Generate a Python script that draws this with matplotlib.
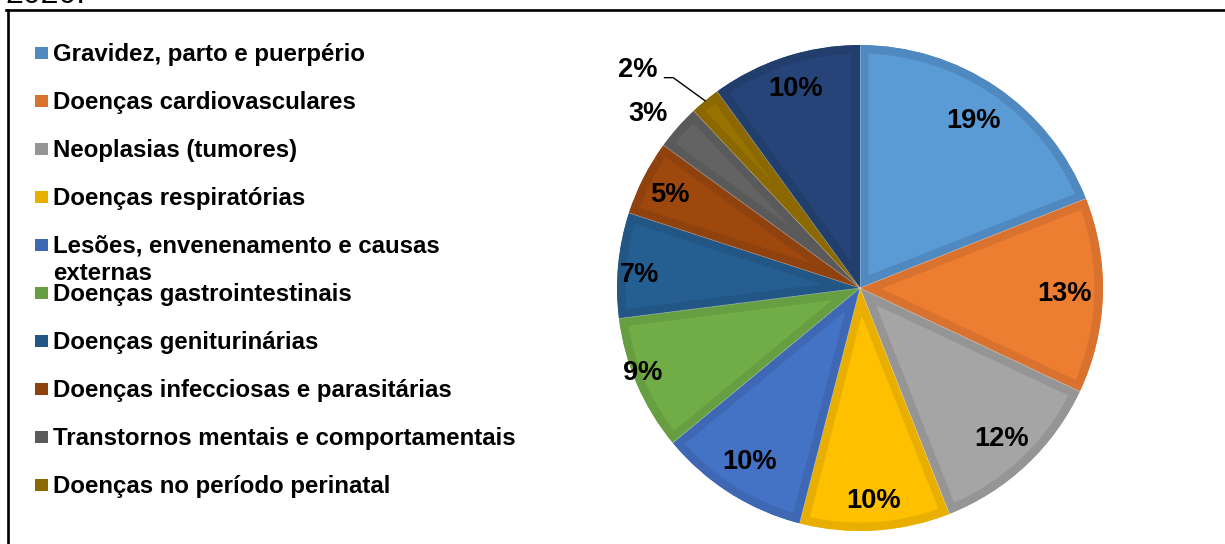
import matplotlib
matplotlib.use("Agg")
import matplotlib.pyplot as plt
from matplotlib.patches import Rectangle
from matplotlib.lines import Line2D
import numpy as np

plt.rcParams['font.family'] = ['Liberation Sans', 'DejaVu Sans']

# Internações por grupo de causas (%)
categories = [
    "Gravidez, parto e puerpério",
    "Doenças cardiovasculares",
    "Neoplasias (tumores)",
    "Doenças respiratórias",
    "Lesões, envenenamento e causas\nexternas",
    "Doenças gastrointestinais",
    "Doenças geniturinárias",
    "Doenças infecciosas e parasitárias",
    "Transtornos mentais e comportamentais",
    "Doenças no período perinatal",
    "Demais causas",
]
values = [19, 13, 12, 10, 10, 9, 7, 5, 3, 2, 10]
legend_count = 10

fills = ["#5B9BD5", "#ED7D31", "#A5A5A5", "#FFC000", "#4472C4", "#70AD47",
         "#255E91", "#9E480E", "#636363", "#997300", "#264478"]
borders = ["#4F89C0", "#D8722E", "#959595", "#E8AF00", "#3E68B3", "#669E41",
           "#225685", "#8F420D", "#5A5A5A", "#8B6900", "#223E6D"]

# radial position of each percentage label (in pie radii) and angular nudge (deg)
label_r = [0.83, 0.84, 0.85, 0.88, 0.85, 0.96, 0.91, 0.87, 1.13, 1.28, 0.86]
label_dtheta = [0, 0, 0, 0, 0, -2, 2, 1, 2, 6, 0]

W, H = 1225, 544
fig = plt.figure(figsize=(W / 100, H / 100), dpi=100)

R = 243.0          # pie radius in px
cx, cy = 860, 288  # pie centre in px (from top)
span = 1.45
ax = fig.add_axes([(cx - span * R) / W, (H - cy - span * R) / H,
                   2 * span * R / W, 2 * span * R / H])

wedges, _ = ax.pie(values, colors=fills, startangle=90, counterclock=False,
                   radius=1.0, wedgeprops=dict(linewidth=0))
ax.set_xlim(-span, span)
ax.set_ylim(-span, span)
ax.set_aspect("auto")
ax.axis("off")

# inner border band: stroke clipped to the wedge itself
band_px = 8.5
for w, bc in zip(wedges, borders):
    w.set_edgecolor(bc)
    w.set_linewidth(2 * band_px * 72 / 100)
    w.set_joinstyle("miter")
    w.set_clip_on(True)
    w.set_clip_path(w)

# thin light seams between neighbouring slices
for w in wedges:
    t = np.deg2rad(w.theta1)
    ax.plot([0, np.cos(t)], [0, np.sin(t)], color="white", lw=0.5, alpha=0.35,
            solid_capstyle="butt")

# percentage labels
for i, (w, v) in enumerate(zip(wedges, values)):
    mid = np.deg2rad((w.theta1 + w.theta2) / 2 + label_dtheta[i])
    x, y = label_r[i] * np.cos(mid), label_r[i] * np.sin(mid)
    ax.text(x, y, f"{v}%", ha="center", va="center", fontsize=19.6,
            fontweight="bold", color="black", clip_on=False)
    if label_r[i] > 1.2:
        tip = np.deg2rad((w.theta1 + w.theta2) / 2)
        ex, ey = 1.0 * np.cos(tip), 1.0 * np.sin(tip)
        sx, sy = x + 0.11, y - 0.03
        kx = sx + 0.036
        ax.add_line(Line2D([sx, kx, ex], [sy, sy, ey], color="black", lw=1.0,
                           clip_on=False))

# legend drawn as a fixed column of entries
def fx(px):
    return px / W

def fy(py):
    return 1 - py / H

base0, step = 61, 48.0
for i in range(legend_count):
    yb = base0 + step * i
    fig.add_artist(Rectangle((fx(35), fy(yb - 2)), 12.5 / W, 12 / H,
                             transform=fig.transFigure, facecolor=borders[i],
                             edgecolor="none"))
    for j, line in enumerate(categories[i].split("\n")):
        fig.text(fx(53), fy(yb + 27 * j), line, ha="left", va="baseline",
                 fontsize=17.3, fontweight="bold", color="black")

# chart frame (continues past the right and bottom edges)
yt = fy(10.3)
fig.add_artist(Line2D([fx(6.3), 1.02], [yt, yt], color="black", lw=1.9,
                      transform=fig.transFigure))
fig.add_artist(Line2D([fx(7.5), fx(7.5)], [yt, -0.02], color="black", lw=1.9,
                      transform=fig.transFigure))

# caption line above the frame
fig.text(fx(5), fy(3), "2020.", ha="left", va="baseline", fontsize=23,
         color="black")

fig.savefig("out.png", dpi=100)
